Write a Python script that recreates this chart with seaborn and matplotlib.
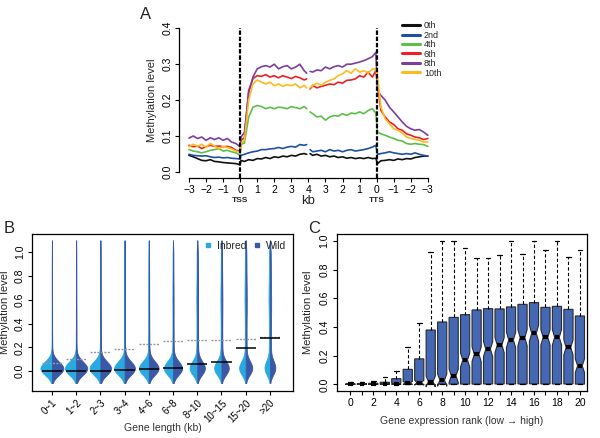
import numpy as np
import pandas as pd
import matplotlib
matplotlib.use("Agg")
import matplotlib.pyplot as plt
import matplotlib.transforms as mtransforms
from matplotlib.lines import Line2D
import seaborn as sns

# ---------------- Panel A: methylation profile along genes ----------------
# x position in kb: upstream (-3..0), body from TSS (0..4), body to TTS (4..8), downstream (8..11)
up_x = [-3, -2.75, -2.5, -2.25, -2, -1.75, -1.5, -1.25, -1, -0.75, -0.5, -0.25, 0]
body1_x = [0.05, 0.25, 0.5, 0.75, 1, 1.25, 1.5, 1.75, 2, 2.25, 2.5, 2.75, 3, 3.25, 3.5, 3.75, 3.9]
body2_x = [4.1, 4.25, 4.5, 4.75, 5, 5.25, 5.5, 5.75, 6, 6.25, 6.5, 6.75, 7, 7.25, 7.5, 7.75, 7.95]
down_x = [8.05, 8.25, 8.5, 8.75, 9, 9.25, 9.5, 9.75, 10, 10.25, 10.5, 10.75, 11]
pos_labels = ['\u22123', '\u22122', '\u22121', '0', '1', '2', '3', '4', '3', '2', '1', '0',
              '\u22121', '\u22122', '\u22123']

rank_names = ['0th', '2nd', '4th', '6th', '8th', '10th']
rank_colors = ['#111111', '#1f4fa6', '#5cbf47', '#ee2024', '#7a3fa3', '#fdbb1e']

# values: upstream (13) | body first half (17) | body second half (17) | downstream (13)
meth_0th = [0.046, 0.042, 0.037, 0.032, 0.031, 0.034, 0.029, 0.028, 0.026, 0.025, 0.024, 0.023, 0.020,
            0.032, 0.029, 0.034, 0.032, 0.037, 0.036, 0.040, 0.037, 0.042, 0.040, 0.044, 0.042, 0.046, 0.044, 0.049, 0.051, 0.049,
            0.051, 0.046, 0.049, 0.044, 0.046, 0.042, 0.044, 0.040, 0.042, 0.038, 0.040, 0.037, 0.039, 0.037, 0.040, 0.037, 0.038,
            0.023, 0.031, 0.032, 0.034, 0.032, 0.036, 0.034, 0.037, 0.036, 0.040, 0.042, 0.044, 0.044]
meth_2nd = [0.049, 0.046, 0.045, 0.044, 0.045, 0.042, 0.040, 0.041, 0.039, 0.040, 0.038, 0.037, 0.036,
            0.046, 0.049, 0.053, 0.056, 0.058, 0.062, 0.062, 0.064, 0.065, 0.068, 0.065, 0.069, 0.071, 0.069, 0.076, 0.074, 0.076,
            0.062, 0.056, 0.058, 0.060, 0.056, 0.062, 0.058, 0.060, 0.056, 0.060, 0.062, 0.058, 0.060, 0.062, 0.065, 0.069, 0.074,
            0.049, 0.051, 0.053, 0.056, 0.053, 0.051, 0.049, 0.051, 0.049, 0.053, 0.049, 0.046, 0.044]
meth_4th = [0.062, 0.058, 0.056, 0.053, 0.056, 0.060, 0.062, 0.065, 0.058, 0.060, 0.056, 0.053, 0.046,
            0.077, 0.080, 0.153, 0.180, 0.185, 0.182, 0.176, 0.180, 0.176, 0.180, 0.179, 0.176, 0.182, 0.179, 0.176, 0.182, 0.176,
            0.167, 0.162, 0.153, 0.155, 0.144, 0.153, 0.157, 0.155, 0.162, 0.157, 0.164, 0.162, 0.167, 0.162, 0.171, 0.176, 0.164,
            0.111, 0.106, 0.102, 0.097, 0.093, 0.088, 0.086, 0.079, 0.077, 0.079, 0.077, 0.076, 0.071]
meth_6th = [0.074, 0.070, 0.072, 0.065, 0.070, 0.074, 0.071, 0.072, 0.070, 0.071, 0.068, 0.060, 0.058,
            0.088, 0.095, 0.227, 0.260, 0.268, 0.266, 0.271, 0.264, 0.268, 0.262, 0.268, 0.264, 0.260, 0.266, 0.262, 0.256, 0.259,
            0.231, 0.241, 0.234, 0.238, 0.241, 0.245, 0.243, 0.250, 0.247, 0.255, 0.256, 0.259, 0.268, 0.264, 0.278, 0.264, 0.282,
            0.245, 0.171, 0.153, 0.139, 0.132, 0.120, 0.116, 0.106, 0.102, 0.097, 0.095, 0.090, 0.093]
meth_8th = [0.094, 0.100, 0.093, 0.097, 0.088, 0.095, 0.090, 0.095, 0.088, 0.093, 0.083, 0.079, 0.070,
            0.097, 0.110, 0.220, 0.264, 0.287, 0.293, 0.296, 0.292, 0.300, 0.287, 0.293, 0.296, 0.287, 0.292, 0.300, 0.282, 0.275,
            0.280, 0.278, 0.284, 0.282, 0.292, 0.287, 0.293, 0.296, 0.292, 0.300, 0.300, 0.303, 0.306, 0.310, 0.315, 0.321, 0.333,
            0.227, 0.213, 0.200, 0.180, 0.167, 0.153, 0.139, 0.127, 0.120, 0.116, 0.118, 0.111, 0.102]
meth_10th = [0.070, 0.077, 0.071, 0.077, 0.068, 0.079, 0.072, 0.065, 0.071, 0.068, 0.064, 0.058, 0.055,
             0.079, 0.088, 0.200, 0.245, 0.256, 0.250, 0.245, 0.250, 0.240, 0.245, 0.238, 0.243, 0.240, 0.245, 0.234, 0.241, 0.234,
             0.234, 0.241, 0.247, 0.241, 0.250, 0.255, 0.259, 0.268, 0.273, 0.282, 0.275, 0.287, 0.278, 0.282, 0.275, 0.287, 0.287,
             0.264, 0.180, 0.148, 0.134, 0.120, 0.116, 0.108, 0.097, 0.093, 0.090, 0.088, 0.083, 0.083]

# ---------------- Panel B: methylation by gene length ----------------
length_bins = ['0~1', '1~2', '2~3', '3~4', '4~6', '6~8', '8~10', '10~15', '15~20', '>20']
meth_levels = [0.0, 0.03, 0.06, 0.1, 0.2, 0.3, 0.4, 0.5, 0.6, 0.7, 0.8, 0.9, 1.0]
# number of genes at each methylation level, per length bin
inbred_counts = [
    [150, 120, 78, 10, 7, 6, 5, 5, 4, 4, 4, 4, 3],
    [145, 117, 75, 12, 9, 7, 6, 6, 5, 5, 5, 4, 4],
    [140, 112, 72, 14, 11, 9, 7, 7, 6, 6, 6, 5, 5],
    [135, 108, 70, 15, 12, 10, 9, 8, 7, 7, 7, 6, 6],
    [128, 102, 66, 16, 13, 11, 10, 10, 10, 10, 9, 8, 7],
    [118, 94, 60, 18, 15, 13, 12, 13, 14, 13, 11, 10, 9],
    [98, 78, 50, 22, 19, 17, 16, 18, 21, 19, 15, 14, 13],
    [94, 74, 48, 22, 19, 17, 17, 20, 23, 21, 16, 15, 14],
    [84, 66, 42, 23, 20, 19, 19, 22, 26, 24, 20, 18, 17],
    [68, 54, 34, 25, 23, 22, 23, 26, 31, 28, 24, 22, 20],
]
wild_counts = [
    [155, 118, 75, 10, 8, 6, 5, 5, 4, 3, 3, 3, 2],
    [148, 116, 74, 12, 9, 8, 7, 6, 5, 4, 4, 4, 3],
    [142, 112, 72, 14, 11, 9, 8, 7, 6, 6, 5, 5, 4],
    [137, 108, 70, 15, 12, 10, 9, 8, 8, 7, 6, 6, 5],
    [130, 102, 66, 17, 14, 12, 11, 10, 9, 9, 8, 7, 6],
    [120, 94, 60, 19, 16, 14, 13, 13, 13, 12, 10, 9, 8],
    [100, 78, 50, 23, 20, 18, 18, 19, 19, 17, 15, 13, 12],
    [96, 74, 48, 23, 20, 18, 18, 20, 21, 19, 16, 14, 13],
    [86, 66, 42, 24, 21, 20, 20, 23, 24, 22, 19, 17, 16],
    [70, 54, 34, 27, 24, 23, 24, 27, 28, 26, 23, 21, 19],
]
mean_line = [0.07, 0.10, 0.16, 0.19, 0.23, 0.25, 0.26, 0.26, 0.27, 0.29]
median_line = [0.005, 0.005, 0.005, 0.012, 0.018, 0.028, 0.062, 0.080, 0.195, 0.28]

# ---------------- Panel C: methylation by expression rank ----------------
expr_rank = list(range(21))
box_q1 = [0.0, 0.0, 0.0, 0.0, 0.0, 0.0, 0.0, 0.0, 0.002, 0.002, 0.002, 0.002, 0.003, 0.003,
          0.003, 0.003, 0.004, 0.003, 0.003, 0.003, 0.002]
box_med = [0.0, 0.0, 0.001, 0.002, 0.005, 0.010, 0.012, 0.020, 0.030, 0.060, 0.170, 0.210,
           0.246, 0.274, 0.310, 0.326, 0.356, 0.328, 0.328, 0.258, 0.130]
box_q3 = [0.005, 0.006, 0.008, 0.015, 0.040, 0.105, 0.178, 0.379, 0.435, 0.467, 0.486, 0.519,
          0.528, 0.526, 0.540, 0.558, 0.570, 0.537, 0.544, 0.523, 0.477]
box_top = [0.020, 0.020, 0.025, 0.050, 0.095, 0.263, 0.430, 0.920, 1.0, 1.0, 0.950, 0.880,
           0.880, 0.900, 1.0, 0.910, 1.0, 0.940, 1.0, 0.886, 0.940]

# ---------------- style ----------------
sns.set_style('ticks')
plt.rcParams['font.family'] = ['Liberation Sans', 'DejaVu Sans']
plt.rcParams['axes.linewidth'] = 0.9
plt.rcParams['xtick.major.size'] = 3
plt.rcParams['ytick.major.size'] = 3
plt.rcParams['xtick.major.width'] = 0.8
plt.rcParams['ytick.major.width'] = 0.8
plt.rcParams['xtick.color'] = 'black'
plt.rcParams['ytick.color'] = 'black'
plt.rcParams['axes.edgecolor'] = 'black'

fig = plt.figure(figsize=(6, 4.38), dpi=100)
axA = fig.add_axes([0.299, 0.594, 0.430, 0.355])
axB = fig.add_axes([0.053, 0.107, 0.436, 0.359])
axC = fig.add_axes([0.561, 0.107, 0.417, 0.359])

# ---- A ----
all_x = up_x + body1_x + body2_x + down_x
seg = ['first'] * (len(up_x) + len(body1_x)) + ['second'] * (len(body2_x) + len(down_x))
series = [meth_0th, meth_2nd, meth_4th, meth_6th, meth_8th, meth_10th]
rows = []
for name, vals in zip(rank_names, series):
    for x, y, s in zip(all_x, vals, seg):
        rows.append((name, x, y, s))
dfa = pd.DataFrame(rows, columns=['rank', 'pos', 'meth', 'segment'])

sns.lineplot(data=dfa, x='pos', y='meth', hue='rank', units='segment', estimator=None,
             hue_order=rank_names, palette=rank_colors, lw=1.2, sort=False,
             legend=False, ax=axA)
axA.set_xlim(-3.56, 11.56)
axA.set_ylim(-0.0166, 0.4166)
axA.vlines([0, 8], -0.0166, 0.4, colors='black', lw=1.6, linestyles=(0, (2, 0.8)))
axA.spines['top'].set_visible(False)
axA.spines['right'].set_visible(False)
axA.spines['left'].set_bounds(0, 0.4)
axA.spines['bottom'].set_bounds(-3, 11)
axA.set_xticks(np.arange(-3, 12))
axA.set_xticklabels(pos_labels, fontsize=7.5)
axA.set_yticks([0, 0.1, 0.2, 0.3, 0.4])
axA.set_yticklabels(['0.0', '0.1', '0.2', '0.3', '0.4'], rotation=90, va='center', fontsize=7.5)
axA.tick_params(axis='both', pad=2)
axA.set_xlabel('')
axA.set_ylabel('Methylation level', fontsize=8)
axA.yaxis.set_label_coords(-0.085, 0.5)
transA = mtransforms.blended_transform_factory(axA.transData, axA.transAxes)
axA.text(0, -0.145, 'TSS', transform=transA, ha='center', va='center', fontsize=6, fontweight='bold')
axA.text(8, -0.145, 'TTS', transform=transA, ha='center', va='center', fontsize=6, fontweight='bold')
axA.text(4, -0.15, 'kb', transform=transA, ha='center', va='center', fontsize=9.5)
handlesA = [Line2D([], [], color=c, lw=2.2) for c in rank_colors]
axA.legend(handlesA, rank_names, loc='upper left', bbox_to_anchor=(0.85, 1.03), frameon=False,
           fontsize=6.5, handlelength=2.0, handletextpad=0.4, labelspacing=0.05, borderaxespad=0)

# ---- B ----
rows = []
for cat, ci, cw in zip(length_bins, inbred_counts, wild_counts):
    for v in np.repeat(meth_levels, ci):
        rows.append((cat, 'Inbred', v))
    for v in np.repeat(meth_levels, cw):
        rows.append((cat, 'Wild', v))
dfb = pd.DataFrame(rows, columns=['length', 'line', 'meth'])


def fixed_bw(kde):
    # constant kernel width of 0.05 methylation units for every violin
    return 0.05 / np.std(kde.dataset, ddof=1)


inbred_color = '#2aa9e1'
wild_color = '#3b58a6'
sns.violinplot(data=dfb, x='length', y='meth', hue='line', split=True, order=length_bins,
               hue_order=['Inbred', 'Wild'], palette=[inbred_color, wild_color], inner=None,
               density_norm='area', width=0.95, cut=2, bw_method=fixed_bw, saturation=1,
               linewidth=0.6, gap=0, legend=False, ax=axB)
for coll in axB.collections:
    coll.set_edgecolor(coll.get_facecolor())

xb = np.arange(len(length_bins))
axB.hlines(mean_line, xb - 0.42, xb + 0.42, colors='#999999', lw=1.0, linestyles=(0, (1.5, 1)))
axB.hlines(median_line, xb - 0.42, xb + 0.42, colors='black', lw=1.1)
axB.set_xlim(-0.83, 9.97)
axB.set_ylim(-0.168, 1.154)
axB.set_yticks([0, 0.2, 0.4, 0.6, 0.8, 1.0])
axB.set_yticklabels(['0.0', '0.2', '0.4', '0.6', '0.8', '1.0'], rotation=90, va='center', fontsize=7.5)
axB.set_xticks(xb)
axB.set_xticklabels(length_bins, rotation=45, ha='right', rotation_mode='anchor', fontsize=7)
axB.tick_params(axis='both', pad=2)
axB.set_xlabel('Gene length (kb)', fontsize=7.5, color='#333333')
axB.set_ylabel('Methylation level', fontsize=8)
axB.yaxis.set_label_coords(-0.085, 0.5)
axB.xaxis.set_label_coords(0.5, -0.205)
handlesB = [Line2D([], [], marker='s', ls='', color=inbred_color, markersize=3.5),
            Line2D([], [], marker='s', ls='', color=wild_color, markersize=3.5)]
axB.legend(handlesB, ['Inbred', 'Wild'], loc='upper right', ncol=2, frameon=False, fontsize=7.5,
           handletextpad=0.6, columnspacing=0.7, borderaxespad=0.25, handlelength=0.6)

# ---- C ----
n_rep = 82
rows = []
for r, a, m, b, t in zip(expr_rank, box_q1, box_med, box_q3, box_top):
    for v in [a] * n_rep + [m] * n_rep + [b] * n_rep + [t]:
        rows.append((r, v))
dfc = pd.DataFrame(rows, columns=['rank', 'meth'])
sns.boxplot(data=dfc, x='rank', y='meth', native_scale=True, notch=True, whis=(0, 100),
            width=0.8, color='#4468b3', saturation=1, linecolor='#2a2a2a', linewidth=0.8,
            showfliers=False, ax=axC,
            medianprops=dict(color='black', linewidth=3, solid_capstyle='butt'),
            whiskerprops=dict(color='black', linestyle=(0, (3, 2)), linewidth=0.8),
            capprops=dict(color='black', linewidth=0.9))
axC.set_xlim(-1.2, 20.6)
axC.set_ylim(-0.047, 1.049)
axC.set_xticks(expr_rank)
axC.set_xticklabels([str(r) if r % 2 == 0 else '' for r in expr_rank], fontsize=7.5)
axC.set_yticks([0, 0.2, 0.4, 0.6, 0.8, 1.0])
axC.set_yticklabels(['0.0', '0.2', '0.4', '0.6', '0.8', '1.0'], rotation=90, va='center', fontsize=7.5)
axC.tick_params(axis='both', pad=2)
axC.set_xlabel('Gene expression rank (low \u2192 high)', fontsize=7.5, color='#333333')
axC.set_ylabel('Methylation level', fontsize=8)
axC.yaxis.set_label_coords(-0.095, 0.5)
axC.xaxis.set_label_coords(0.5, -0.16)

fig.text(0.242, 0.966, 'A', fontsize=12, ha='center', va='center')
fig.text(0.016, 0.479, 'B', fontsize=12, ha='center', va='center')
fig.text(0.524, 0.479, 'C', fontsize=12, ha='center', va='center')

fig.savefig('out.png', dpi=100)
